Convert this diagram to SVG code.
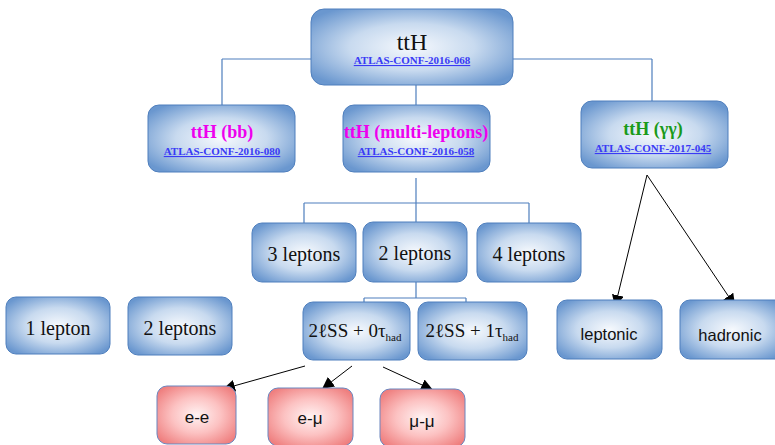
<svg xmlns="http://www.w3.org/2000/svg" width="775" height="445" viewBox="0 0 775 445">
<defs>
<radialGradient id="gb" cx="0.5" cy="0.5" r="0.62">
<stop offset="0" stop-color="#f6f9fd"/>
<stop offset="0.5" stop-color="#c8daef"/>
<stop offset="1" stop-color="#6a97cf"/>
</radialGradient>
<radialGradient id="gr" cx="0.5" cy="0.5" r="0.62">
<stop offset="0" stop-color="#fff3f3"/>
<stop offset="0.5" stop-color="#fcc2c2"/>
<stop offset="1" stop-color="#ef7f7f"/>
</radialGradient>
<marker id="ah" viewBox="0 0 10 10" refX="10" refY="5" markerWidth="12" markerHeight="12" markerUnits="userSpaceOnUse" orient="auto">
<path d="M0,0 L10,5 L0,10 z" fill="#000"/>
</marker>
<style>
.b{fill:url(#gb);stroke:#4f7fbd;stroke-width:1}
.r{fill:url(#gr);stroke:#6a86bf;stroke-width:1}
.tree{stroke:#4f7fbd;stroke-width:1.2;fill:none}
.arr{stroke:#000;stroke-width:1;fill:none;marker-end:url(#ah)}
.serif{font-family:"Liberation Serif","Times New Roman",serif;fill:#111;text-anchor:middle}
.sans{font-family:"Liberation Sans",Arial,sans-serif;fill:#111;text-anchor:middle}
.link{font-family:"Liberation Serif","Times New Roman",serif;font-weight:bold;font-size:11px;fill:#3a3af5;text-decoration:underline;text-anchor:middle}
.h{font-family:"Liberation Serif","Times New Roman",serif;font-weight:bold;font-size:18px;text-anchor:middle}
</style>
</defs>
<g id="connectors">
<path class="tree" d="M222,59 H311 M513,59 H652 M222,59 V105 M652,59 V101 M416,85 V105"/>
<path class="tree" d="M416,178 V203 M304,203 H529 M304,203 V223 M416,203 V222 M529,203 V223"/>
<path class="tree" d="M416,282 V298 M364,298 H466 M364,298 V302 M466,298 V302"/>
<line class="arr" x1="305" y1="366" x2="223" y2="389"/>
<line class="arr" x1="352" y1="366" x2="322" y2="389"/>
<line class="arr" x1="383" y1="367" x2="433" y2="390"/>
<line class="arr" x1="647" y1="175" x2="615" y2="307"/>
<line class="arr" x1="647" y1="175" x2="735" y2="306"/>
</g>
<g id="ttH">
<rect class="b" x="311" y="9" width="202" height="76" rx="13"/>
<text class="serif" x="412" y="50" font-size="24">ttH</text>
<text class="link" x="412" y="64">ATLAS-CONF-2016-068</text>
</g>
<g id="ttH-bb">
<rect class="b" x="148" y="105" width="147" height="67" rx="11"/>
<text class="h" x="222" y="138" fill="#ee00ee">ttH (bb)</text>
<text class="link" x="222" y="155">ATLAS-CONF-2016-080</text>
</g>
<g id="ttH-ml">
<rect class="b" x="343" y="105" width="147" height="67" rx="11"/>
<text class="h" x="416" y="138" fill="#ee00ee">ttH (multi-leptons)</text>
<text class="link" x="416" y="155">ATLAS-CONF-2016-058</text>
</g>
<g id="ttH-gg">
<rect class="b" x="581" y="101" width="147" height="67" rx="11"/>
<text class="h" x="653" y="135" fill="#1a9a1a">ttH (γγ)</text>
<text class="link" x="653" y="152">ATLAS-CONF-2017-045</text>
</g>
<g id="l3">
<rect class="b" x="252" y="223" width="104" height="59" rx="10"/>
<text class="serif" x="304" y="261" font-size="20">3 leptons</text>
</g>
<g id="l2">
<rect class="b" x="363" y="222" width="104" height="60" rx="10"/>
<text class="serif" x="415" y="260" font-size="20">2 leptons</text>
</g>
<g id="l4">
<rect class="b" x="477" y="223" width="104" height="59" rx="10"/>
<text class="serif" x="529" y="261" font-size="20">4 leptons</text>
</g>
<g id="bb1">
<rect class="b" x="6" y="297" width="104" height="57" rx="10"/>
<text class="serif" x="58" y="335" font-size="20">1 lepton</text>
</g>
<g id="bb2">
<rect class="b" x="128" y="297" width="104" height="58" rx="10"/>
<text class="serif" x="180" y="335" font-size="20">2 leptons</text>
</g>
<g id="ss0">
<rect class="b" x="303" y="302" width="107" height="58" rx="10"/>
<text class="serif" x="355" y="337" font-size="19">2ℓSS + 0τ<tspan font-size="11" dy="4">had</tspan></text>
</g>
<g id="ss1">
<rect class="b" x="418" y="302" width="109" height="58" rx="10"/>
<text class="serif" x="472" y="337" font-size="19">2ℓSS + 1τ<tspan font-size="11" dy="4">had</tspan></text>
</g>
<g id="ee">
<rect class="r" x="157" y="386" width="79" height="58" rx="10"/>
<text class="sans" x="197" y="423" font-size="17">e-e</text>
</g>
<g id="emu">
<rect class="r" x="268" y="388" width="85" height="58" rx="10"/>
<text class="sans" x="310" y="424" font-size="17">e-μ</text>
</g>
<g id="mumu">
<rect class="r" x="380" y="389" width="85" height="58" rx="10"/>
<text class="sans" x="422" y="427" font-size="17">μ-μ</text>
</g>
<g id="leptonic">
<rect class="b" x="557" y="300" width="105" height="59" rx="10"/>
<text class="sans" x="609" y="340" font-size="16.5">leptonic</text>
</g>
<g id="hadronic">
<rect class="b" x="680" y="300" width="105" height="59" rx="10"/>
<text class="sans" x="730" y="341" font-size="16.5">hadronic</text>
</g>
</svg>
